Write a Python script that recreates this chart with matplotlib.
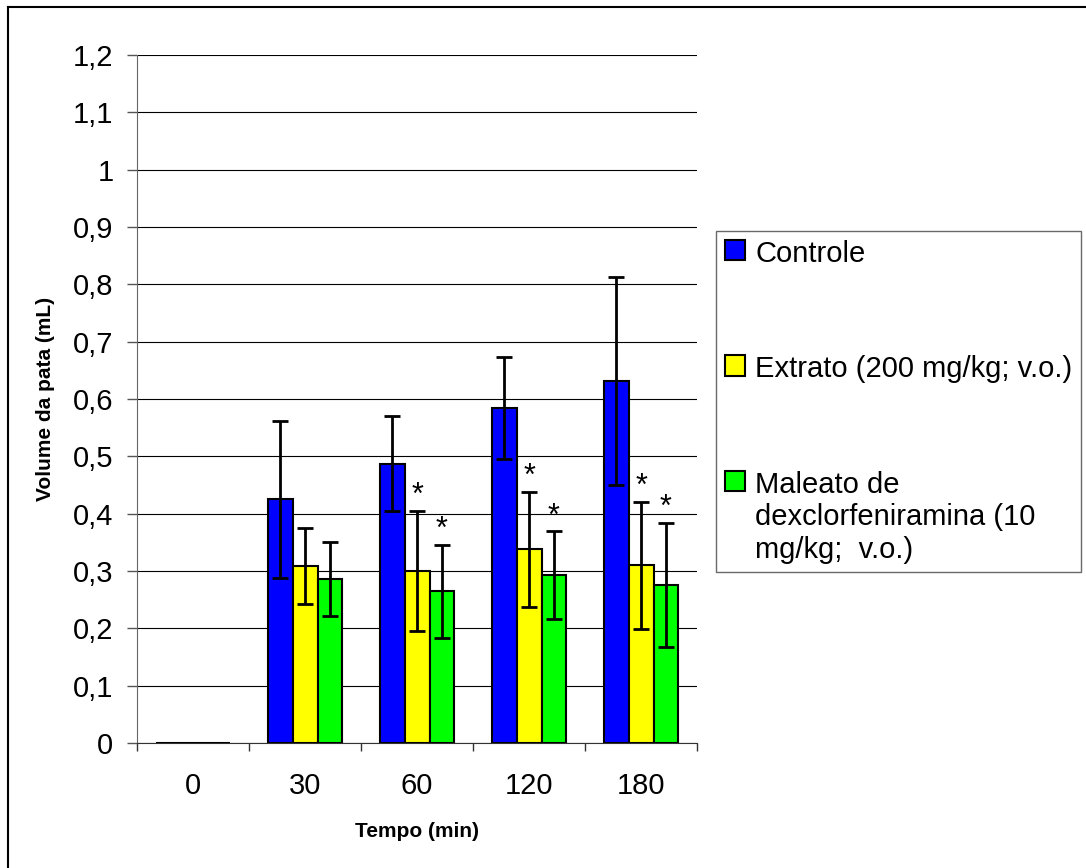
import numpy as np
import matplotlib.pyplot as plt
from matplotlib.lines import Line2D
from matplotlib.ticker import FuncFormatter, MultipleLocator

plt.rcParams['font.family'] = ['Liberation Sans', 'DejaVu Sans']

# dados
tempos = ['0', '30', '60', '120', '180']
controle = [0, 0.425, 0.487, 0.584, 0.631]
controle_err = [0, 0.137, 0.083, 0.089, 0.181]
extrato = [0, 0.309, 0.300, 0.338, 0.310]
extrato_err = [0, 0.066, 0.105, 0.100, 0.111]
maleato = [0, 0.286, 0.265, 0.293, 0.276]
maleato_err = [0, 0.065, 0.081, 0.076, 0.108]
extrato_sig = [False, False, True, True, True]
maleato_sig = [False, False, True, True, True]

nomes = ['Controle', 'Extrato (200 mg/kg; v.o.)',
         'Maleato de\ndexclorfeniramina (10\nmg/kg;  v.o.)']
cores = ['#0000ff', '#ffff00', '#00ff00']

fig = plt.figure(figsize=(10.86, 8.68), dpi=100)
ax = fig.add_axes([0.1262, 0.1440, 0.5157, 0.7926])

x = np.arange(len(tempos))
w = 1 / 4.5
series = [(controle, controle_err, None), (extrato, extrato_err, extrato_sig),
          (maleato, maleato_err, maleato_sig)]
handles = []
for i, (vals, errs, sig) in enumerate(series):
    pos = x + (i - 1) * w
    vals = np.array(vals)
    errs = np.array(errs)
    b = ax.bar(pos, vals, w, color=cores[i], edgecolor='black', linewidth=1.5, zorder=3)
    handles.append(b)
    m = errs > 0
    ax.errorbar(pos[m], vals[m], yerr=errs[m], fmt='none', ecolor='black',
                elinewidth=2, capsize=6, capthick=2, zorder=4)
    if sig is not None:
        for p, v, e, s in zip(pos, vals, errs, sig):
            if s:
                ax.text(p, v + e + 0.012, '*', ha='center', va='baseline',
                        fontsize=22, zorder=5)

ax.set_xlim(-0.5, len(tempos) - 0.5)
ax.set_ylim(0, 1.2)
ax.yaxis.set_major_locator(MultipleLocator(0.1))
ax.yaxis.set_major_formatter(FuncFormatter(lambda v, p: ('%g' % round(v, 1)).replace('.', ',')))
ax.set_xticks(np.arange(-0.5, len(tempos)))
ax.set_xticklabels([])
ax.set_xticks(x, minor=True)
ax.set_xticklabels(tempos, minor=True)
ax.tick_params(axis='x', which='major', length=6, direction='out', width=1, color='#333333')
ax.tick_params(axis='x', which='minor', length=0, pad=21, labelsize=21)
ax.tick_params(axis='y', length=7, width=1, pad=10, labelsize=21, color='#555555')

ax.grid(axis='y', color='black', linewidth=0.8, zorder=0)
ax.set_axisbelow(True)
for s in ['top', 'right']:
    ax.spines[s].set_visible(False)
ax.spines['left'].set_color('#666666')
ax.spines['bottom'].set_color('#333333')

ax.set_ylabel('Volume da pata (mL)', fontsize=15, fontweight='bold', labelpad=13)
ax.set_xlabel('Tempo (min)', fontsize=15, fontweight='bold', labelpad=16)

leg = fig.legend(handles, nomes, loc='upper left', bbox_to_anchor=(0.6593, 0.7339),
                 bbox_transform=fig.transFigure, fontsize=21, frameon=True, fancybox=False,
                 edgecolor='#444444', handlelength=0.7, handleheight=0.7,
                 handletextpad=0.35, borderpad=0.3, labelspacing=3.0, borderaxespad=0)
leg.get_frame().set_linewidth(1)
# alinhar o quadradinho com a primeira linha do texto
for col in leg._legend_handle_box.get_children():
    for entry in col.get_children():
        entry.align = 'top'

# moldura externa
fig.add_artist(Line2D([8 / 1086, 8 / 1086], [0, 1 - 7 / 868], color='black', lw=1.5))
fig.add_artist(Line2D([8 / 1086, 1], [1 - 7 / 868, 1 - 7 / 868], color='black', lw=1.5))

fig.savefig('out.png', dpi=100)
